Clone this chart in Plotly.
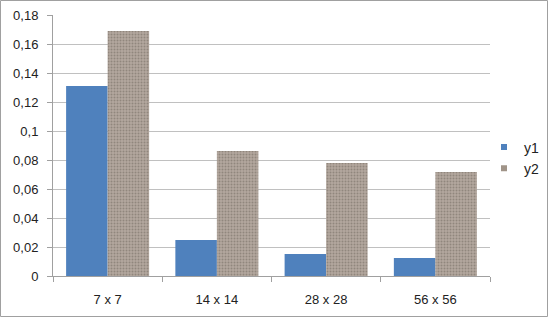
import plotly.graph_objects as go

categories = ["7 x 7", "14 x 14", "28 x 28", "56 x 56"]
y1 = [0.131, 0.0248, 0.0152, 0.0124]
y2 = [0.169, 0.0862, 0.078, 0.0717]
tick_vals = [0, 0.02, 0.04, 0.06, 0.08, 0.10, 0.12, 0.14, 0.16, 0.18]
tick_text = ["0", "0,02", "0,04", "0,06", "0,08", "0,1", "0,12", "0,14", "0,16", "0,18"]

W, H = 549, 318
ml, mr, mt, mb = 53, 59, 15, 42
C1, C2 = "#4f81bd", "#b3a89e"

fig = go.Figure()
fig.add_trace(go.Bar(x=categories, y=y1, name="y1", showlegend=False,
                     marker=dict(color=C1, line=dict(width=0))))
fig.add_trace(go.Bar(x=categories, y=y2, name="y2", showlegend=False,
                     marker=dict(color=C2, line=dict(width=0),
                                 pattern=dict(shape=".", fgcolor="#6f645c", bgcolor=C2,
                                              size=3, solidity=0.35, fillmode="overlay"))))
# legend entries (small square swatches like the original)
fig.add_trace(go.Scatter(x=[None], y=[None], mode="markers", name="y1",
                         marker=dict(symbol="square", size=6, color=C1)))
fig.add_trace(go.Scatter(x=[None], y=[None], mode="markers", name="y2",
                         marker=dict(symbol="square", size=6, color="#a09488")))

pw = W - ml - mr
ph = H - mt - mb
fig.add_shape(type="rect", xref="paper", yref="paper",
              x0=-(ml - 0.5) / pw, x1=1 + (mr - 1.5) / pw,
              y0=-(mb - 1.5) / ph, y1=1 + (mt - 0.5) / ph,
              line=dict(color="#a0a0a0", width=1), layer="below")

fig.update_layout(
    width=W, height=H,
    margin=dict(l=ml, r=mr, t=mt, b=mb, pad=0, autoexpand=False),
    paper_bgcolor="white", plot_bgcolor="white",
    barmode="group", bargap=0.24, bargroupgap=0,
    font=dict(family="Liberation Sans, Arial, sans-serif", size=13, color="#222"),
    showlegend=True,
    legend=dict(xref="container", yref="container", x=484 / W, y=1 - 158 / H,
                xanchor="left", yanchor="middle",
                font=dict(size=14, color="#222"), itemwidth=30,
                tracegroupgap=0, bgcolor="rgba(0,0,0,0)"),
    xaxis=dict(showline=True, linecolor="#a0a0a0", linewidth=1,
               ticks="outside", tickson="boundaries", ticklen=5, tickcolor="#a0a0a0",
               ticklabelstandoff=11, showgrid=False, tickfont=dict(size=13)),
    yaxis=dict(range=[0, 0.18], tickvals=tick_vals, ticktext=tick_text,
               showline=True, linecolor="#a0a0a0", linewidth=1,
               ticks="outside", ticklen=5, tickcolor="#a0a0a0",
               showgrid=True, gridcolor="#c0c0c0", gridwidth=1,
               zeroline=False, tickfont=dict(size=13), ticklabelstandoff=6),
)

fig.write_html("out.html")
